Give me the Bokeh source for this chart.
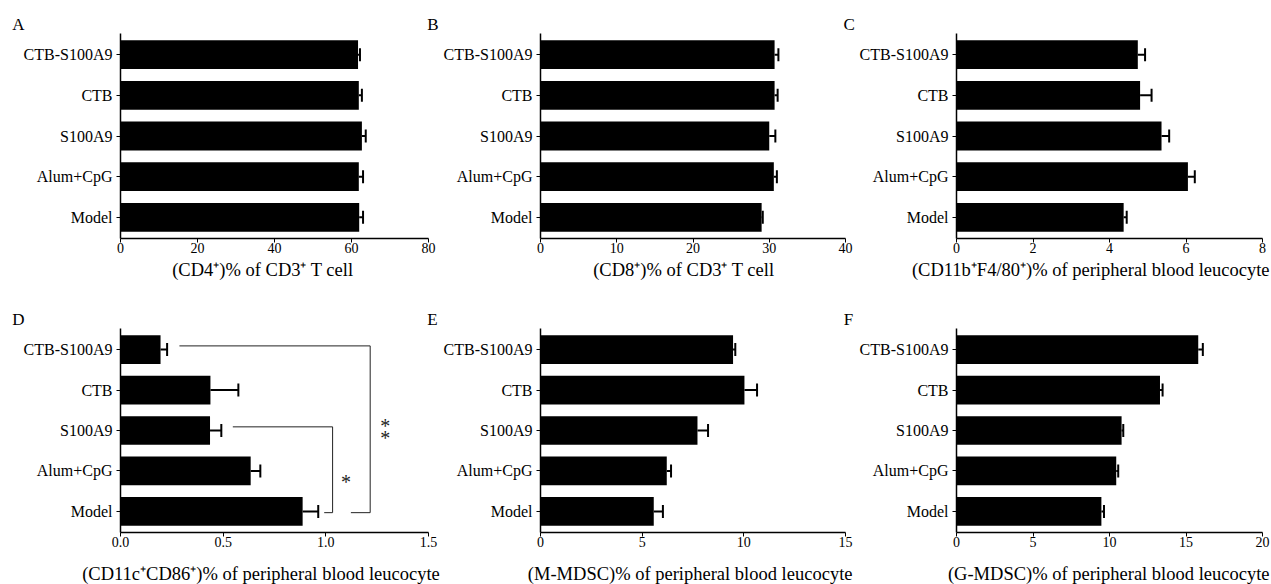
from bokeh.plotting import figure
from bokeh.models import FactorRange, Range1d, FixedTicker, PrintfTickFormatter, ColumnDataSource
from bokeh.transform import dodge
from bokeh.layouts import row, column
from bokeh.core.properties import value
from bokeh.embed import file_html
from bokeh.resources import INLINE

# ---------------- data ----------------
groups = ["Model", "Alum+CpG", "S100A9", "CTB", "CTB-S100A9"]   # bottom -> top

cd4_mean = [62.0, 61.9, 62.7, 61.9, 61.7]
cd4_sem = [1.0, 1.1, 1.0, 0.8, 0.5]
cd8_mean = [29.0, 30.6, 30.0, 30.7, 30.7]
cd8_sem = [0.15, 0.4, 0.8, 0.4, 0.5]
mac_mean = [4.37, 6.05, 5.36, 4.80, 4.74]
mac_sem = [0.08, 0.18, 0.20, 0.30, 0.19]
dc_mean = [0.887, 0.634, 0.436, 0.438, 0.195]
dc_sem = [0.076, 0.047, 0.055, 0.136, 0.032]
mmdsc_mean = [5.57, 6.21, 7.72, 10.03, 9.47]
mmdsc_sem = [0.45, 0.21, 0.52, 0.62, 0.11]
gmdsc_mean = [9.47, 10.44, 10.79, 13.30, 15.80]
gmdsc_sem = [0.17, 0.13, 0.11, 0.17, 0.30]

ticks_A = [0, 20, 40, 60, 80]
ticks_B = [0, 10, 20, 30, 40]
ticks_C = [0, 2, 4, 6, 8]
ticks_D = [0.0, 0.5, 1.0, 1.5]
ticks_E = [0, 5, 10, 15]
ticks_F = [0, 5, 10, 15, 20]

titles = [
    "(CD4\u207a)% of CD3\u207a T cell",
    "(CD8\u207a)% of CD3\u207a T cell",
    "(CD11b\u207aF4/80\u207a)% of peripheral blood leucocyte",
    "(CD11c\u207aCD86\u207a)% of peripheral blood leucocyte",
    "(M-MDSC)% of peripheral blood leucocyte",
    "(G-MDSC)% of peripheral blood leucocyte",
]
letters = ["A", "B", "C", "D", "E", "F"]

# significance annotations in panel D
sig_from = ["CTB-S100A9", "S100A9"]
sig_to = ["Model", "Model"]
sig_text = ["**", "*"]
sig_x_start = [0.287, 0.547]
sig_x_vert = [1.216, 1.033]
sig_x_return = [1.122, 0.992]
sig_star_x = [1.289, 1.098]
sig_star_y = [2.06, 0.82]   # in category units above "Model"

# ---------------- layout / styling ----------------
SERIF = "Liberation Serif"
TOTAL_W = 1271
ROW_GEOM = [dict(fh=205, bottom=20), dict(fh=204, bottom=20)]
STRIP_H = [33, 70, 584 - 33 - 225 - 70 - 224]   # strips holding panel letters and axis titles
COL_GEOM = [dict(w=440, left=120, fw=308),
            dict(w=416, left=96, fw=309),
            dict(w=415, left=98, fw=308)]
# page positions of letters and titles (x, vertical centre of glyphs, align)
LETTER_POS = [(11.7, 23.5, "left"), (426.7, 23.5, "left"), (843, 23.5, "left"),
              (11.7, 318.5, "left"), (426.7, 318.5, "left"), (843.3, 318.5, "left")]
TITLE_POS = [(171.7, 269.2, "left"), (592.7, 269.2, "left"), (1269, 269.2, "right"),
             (81.7, 573.5, "left"), (527.3, 573.5, "left"), (1269, 573.5, "right")]


def make_panel(i, means, sems, ticks, fmt):
    r, c = divmod(i, 3)
    rg, cg = ROW_GEOM[r], COL_GEOM[c]
    xmax = ticks[-1]
    p = figure(
        width=cg["w"], height=rg["fh"] + rg["bottom"],
        min_border_left=cg["left"], min_border_right=cg["w"] - cg["left"] - cg["fw"],
        min_border_top=0, min_border_bottom=rg["bottom"],
        y_range=FactorRange(*groups, range_padding=0.02, range_padding_units="absolute"),
        x_range=Range1d(0, xmax),
        output_backend="svg", toolbar_location=None,
    )
    p.outline_line_color = None
    p.xgrid.visible = False
    p.ygrid.visible = False
    p.background_fill_color = "white"
    p.border_fill_color = "white"

    ends = [m + s for m, s in zip(means, sems)]
    src = ColumnDataSource(dict(g=groups, m=means, e=ends))
    p.hbar(y="g", left=0, right="m", height=0.71, source=src, fill_color="black", line_color=None)
    p.segment(x0="m", x1="e", y0="g", y1="g", source=src, line_color="black", line_width=2)
    p.segment(x0="e", x1="e", y0=dodge("g", -0.16, range=p.y_range), y1=dodge("g", 0.16, range=p.y_range),
              source=src, line_color="black", line_width=2)

    for ax in (p.xaxis[0], p.yaxis[0]):
        ax.axis_line_width = 1.5
        ax.axis_line_color = "black"
        ax.major_tick_line_color = "black"
        ax.major_tick_line_width = 1
        ax.major_tick_in = 0
        ax.major_tick_out = 4
        ax.minor_tick_line_color = None
        ax.major_label_text_font = SERIF
        ax.major_label_text_color = "black"
    p.xaxis.ticker = FixedTicker(ticks=ticks)
    p.xaxis.formatter = PrintfTickFormatter(format=fmt)
    p.xaxis.major_label_text_font_size = "14px"
    p.xaxis.major_label_standoff = 0
    p.yaxis.major_label_text_font_size = "16px"
    p.yaxis.major_label_standoff = 4
    return p


def make_strip(k, y_top):
    h = STRIP_H[k]
    s = figure(width=TOTAL_W, height=h, x_range=Range1d(0, TOTAL_W), y_range=Range1d(y_top + h, y_top),
               min_border=0, x_axis_location=None, y_axis_location=None,
               output_backend="svg", toolbar_location=None)
    s.outline_line_color = None
    s.xgrid.visible = False
    s.ygrid.visible = False
    return s


def put_text(s, pos, txt, size):
    x, y, align = pos
    s.text(x=[x], y=[y], text=[txt], text_font=value(SERIF), text_font_size=size,
           text_align=align, text_baseline="middle", text_color="black")


pA = make_panel(0, cd4_mean, cd4_sem, ticks_A, "%d")
pB = make_panel(1, cd8_mean, cd8_sem, ticks_B, "%d")
pC = make_panel(2, mac_mean, mac_sem, ticks_C, "%d")
pD = make_panel(3, dc_mean, dc_sem, ticks_D, "%.1f")
pE = make_panel(4, mmdsc_mean, mmdsc_sem, ticks_E, "%d")
pF = make_panel(5, gmdsc_mean, gmdsc_sem, ticks_F, "%d")

row1_h = ROW_GEOM[0]["fh"] + ROW_GEOM[0]["bottom"]
row2_h = ROW_GEOM[1]["fh"] + ROW_GEOM[1]["bottom"]
y_strip1 = 0
y_strip2 = STRIP_H[0] + row1_h
y_strip3 = y_strip2 + STRIP_H[1] + row2_h
strips = [make_strip(0, y_strip1), make_strip(1, y_strip2), make_strip(2, y_strip3)]
strip_tops = [y_strip1, y_strip2, y_strip3]


def strip_for(y):
    for k in (2, 1, 0):
        if y >= strip_tops[k]:
            return strips[k]


for i in range(6):
    put_text(strip_for(LETTER_POS[i][1]), LETTER_POS[i], letters[i], "17px")
    put_text(strip_for(TITLE_POS[i][1]), TITLE_POS[i], titles[i], "18.5px")

# significance brackets (panel D)
for k in range(len(sig_text)):
    yt = groups.index(sig_from[k]) + 0.5 + 0.09
    yb = groups.index(sig_to[k]) + 0.5 - 0.03
    pD.line(x=[sig_x_start[k], sig_x_vert[k], sig_x_vert[k], sig_x_return[k]],
            y=[yt, yt, yb, yb], line_color="#222222", line_width=1)
    n = len(sig_text[k])
    base = groups.index(sig_to[k]) + 0.5 + sig_star_y[k]
    ys = [base + (j - (n - 1) / 2) * 0.29 for j in range(n)][::-1]
    pD.text(x=[sig_star_x[k]] * n, y=ys, text=["*"] * n, text_font=value(SERIF),
            text_font_size="20px", text_align="center", text_baseline="middle",
            y_offset=4, text_color="#222222")

layout = column(strips[0], row(pA, pB, pC), strips[1], row(pD, pE, pF), strips[2])
open("out.html", "w").write(file_html(layout, INLINE))
